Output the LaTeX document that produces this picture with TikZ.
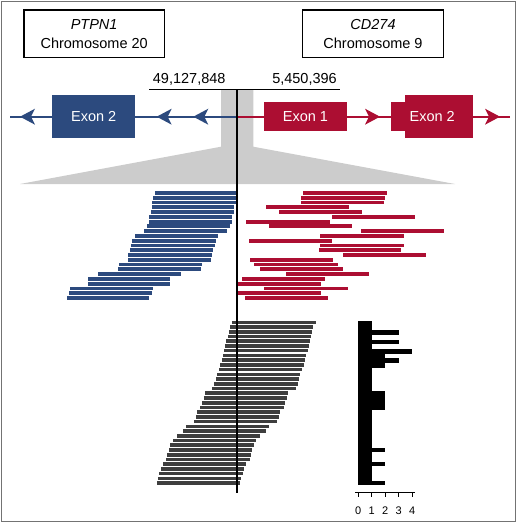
\documentclass[tikz,border=0pt]{standalone}
\usepackage{fontspec}
\setmainfont{Liberation Sans}
\definecolor{bluec}{RGB}{44,74,126}
\definecolor{redc}{RGB}{172,14,50}
\definecolor{readgray}{RGB}{62,62,62}
\definecolor{bandgray}{RGB}{204,204,204}
\begin{document}
\begin{tikzpicture}[x=1pt,y=-1pt,
  genebox/.style={draw=black, line width=1.2pt, minimum width=140.3pt, minimum height=47.3pt, inner sep=0pt},
  lbl/.style={font=\fontsize{14.5}{17}\selectfont, inner sep=0pt, anchor=base},
  exonbox/.style={inner sep=0pt, text=white, font=\fontsize{14.5}{17}\selectfont},
  histlbl/.style={font=\fontsize{11}{13}\selectfont, inner sep=0pt, anchor=base},
  blueline/.style={draw=bluec, line width=2pt},
  redline/.style={draw=redc, line width=2pt},
  larr/.pic={\path[pic actions] (0,0) -- (15,-8) -- (11,0) -- (15,8) -- cycle;},
  rarr/.pic={\path[pic actions] (0,0) -- (-15,-8) -- (-11,0) -- (-15,8) -- cycle;}
]
\useasboundingbox (0,0) rectangle (520,524);
% frame
\draw[black!55, line width=0.8pt] (1,1) rectangle (515.5,521);
% gene boxes
\node[genebox] (boxL) at (94.15,33.65) {};
\node[lbl] (ptpn) at (94.15,30) {\textit{PTPN1}};
\node[lbl] (chr20) at (94.15,48.3) {Chromosome 20};
\node[genebox] (boxR) at (373,33.65) {};
\node[lbl] (cd274) at (373,30) {\textit{CD274}};
\node[lbl] (chr9) at (373,48.3) {Chromosome 9};
% coordinates
\node[lbl] (posL) at (189.2,84) {49,127,848};
\node[lbl] (posR) at (304.5,84) {5,450,396};
% gray zoom band
\fill[bandgray] (221,89.3) -- (253.3,89.3) -- (253.3,146.7) -- (455,184) -- (20,184) -- (221,146.7) -- cycle;
% gene track
\coordinate (bl) at (10,116.7);
\coordinate (mid) at (237.3,116.7);
\coordinate (rr) at (510,116.7);
\draw[blueline] (bl) -- (mid);
\draw[redline] (mid) -- (rr);
\pic[fill=bluec] at (20,116.7) {larr};
\pic[fill=bluec] at (156.7,116.7) {larr};
\pic[fill=bluec] at (193.3,116.7) {larr};
\pic[fill=redc] at (380,116.7) {rarr};
\pic[fill=redc] at (500,116.7) {rarr};
\node[exonbox, fill=bluec, minimum width=82.7pt, minimum height=43.3pt] (bex2) at (93.65,116.65) {Exon 2};
\node[exonbox, fill=redc, minimum width=82.4pt, minimum height=28.7pt] (rex1) at (305.5,116.65) {Exon 1};
\fill[redc] (391,102.3) rectangle (406,131);
\fill[redc] (405,95) rectangle (473.3,138.3);
\node[exonbox] (rex2) at (432.2,116.65) {Exon 2};
% breakpoint lines
\coordinate (hl) at (149,89.3);
\coordinate (hr) at (340,89.3);
\coordinate (vt) at (237.3,89.3);
\coordinate (vb) at (237.3,493);
\draw[line width=1.5pt] (hl) -- (hr);
% blue reads
\foreach \l/\r [count=\i from 0] in {155/236,152.7/236.7,152.3/236,151.7/234.3,151/233.7,149/232.3,148.7/232,147/229.7,143.7/226.7,134.7/218,132/215.7,131/214.7,130/213.3,128.3/211.7,127.7/211,119/202.3,118/201,97.7/180.7,88.3/170.3,88.3/170.3,70/152.7,69/152,66.7/149.3}
  \fill[bluec] ({\l},{193+4.77*\i-1.9}) rectangle ({\r},{193+4.77*\i+1.9});
% red reads
\foreach \l/\r [count=\i from 0] in {303.3/387,301.3/384.7,300.7/383.7,265.7/349,279/362,331.7/415.3,246.3/330,269.3/352.3,361/444,320.3/404,248.7/332.3,320.3/404,318.7/401.3,342.7/426,250.3/333.3,254.3/337.7,260/343.3,285.7/369.3,242/325.3,237.7/321,264.3/347.7,238.3/321,244.7/327.7}
  \fill[redc] ({\l},{193+4.77*\i-1.9}) rectangle ({\r},{193+4.77*\i+1.9});
% gray reads
\foreach \r [count=\i from 0] in {315.5,313,312.3,311.3,309.7,308.7,307.7,306.3,305.3,303.7,302,300.3,299.3,297.7,295.7,288.3,287,285.3,283.7,280.3,279,277,269.3,266.3,260.3,256.3,253.5,252,250.5,249.5,246,244.3,242.5,241,240}
  \fill[readgray] ({\r-83.5},{322.3+4.73*\i-1.8}) rectangle ({\r},{322.3+4.73*\i+1.8});
% vertical breakpoint line
\draw[line width=2pt] (vt) -- (vb);
% histogram
\fill[black] (358.3,320.7) rectangle (371.7,485);
\foreach \b/\c in {2/3,4/3,6/4,7/2,8/3,9/2,15/2,16/2,17/2,18/2,27/2,30/2,34/2}
  \fill[black] (371,{320.7+4.7*\b}) rectangle ({358.3+13.5*\c},{320.7+4.7*(\b+1)});
\coordinate (axl) at (355,492.7);
\coordinate (axr) at (415,492.7);
\draw[line width=1pt] (axl) -- (axr);
\foreach \k in {0,...,4} {
  \draw[line width=0.9pt] ({358.3+13.5*\k},492.7) -- ++(0,3.8);
  \node[histlbl] at ({358.3+13.5*\k},514) {\k};
}
\end{tikzpicture}
\end{document}
